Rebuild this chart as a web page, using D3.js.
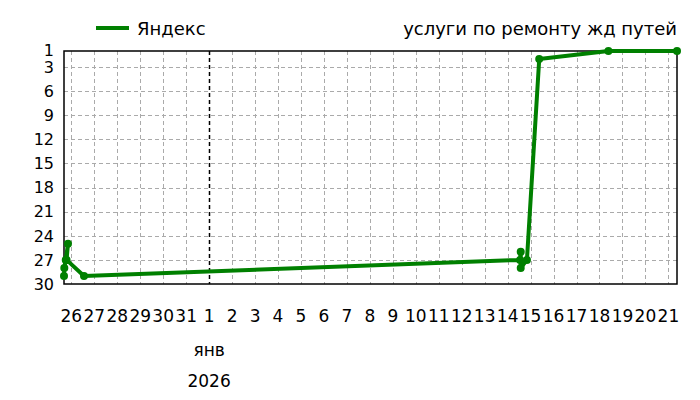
<!DOCTYPE html>
<meta charset="utf-8">

<head>
    <title>услуги по ремонту жд путей</title>
    <script src="https://cdn.jsdelivr.net/npm/d3@7"></script>
    <style>
        body {
            margin: 0;
            background-color: #fff;
        }

        text {
            font-family: "DejaVu Sans", Verdana, sans-serif;
            fill: #000;
        }

        .grid line {
            stroke: #aaa;
            stroke-dasharray: 4, 3;
            stroke-width: 1;
        }
    </style>
</head>

<body>
    <svg id="svg"></svg>

    <script>
        // data
        const seriesName = 'Яндекс'
        const chartTitle = 'услуги по ремонту жд путей'
        const monthLabel = 'янв'
        const yearLabel = '2026'
        const times = [
            '2025-12-25T16:20', '2025-12-25T16:40', '2025-12-25T18:10', '2025-12-25T20:30',
            '2025-12-25T19:00', '2025-12-26T13:15', '2026-01-14T13:00', '2026-01-14T13:40',
            '2026-01-14T13:40', '2026-01-14T20:10', '2026-01-15T09:00', '2026-01-18T09:20',
            '2026-01-21T09:00'
        ]
        const positions = [29, 28, 27, 25, 27, 29, 27, 26, 28, 27, 2, 1, 1]
        const yTicks = [1, 3, 6, 9, 12, 15, 18, 21, 24, 27, 30]
        const monthStart = '2026-01-01T00:00'

        const width = 700
        const height = 400
        const plot = { left: 64, right: 677, top: 51, bottom: 284 }
        const green = '#008000'

        const parse = d3.timeParse('%Y-%m-%dT%H:%M')
        const data = times.map((t, i) => ({ date: parse(t), pos: positions[i] }))

        let svg = d3.select('#svg')
            .attr('width', width)
            .attr('height', height)

        let x = d3.scaleTime()
            .domain(d3.extent(data, d => d.date))
            .range([plot.left, plot.right])

        let y = d3.scaleLinear()
            .domain([1, 30])
            .range([plot.top, plot.bottom])

        let days = d3.timeDay.range(d3.timeDay.ceil(x.domain()[0]), x.domain()[1])
        let jan1 = parse(monthStart)

        // grid
        let grid = svg.append('g').attr('class', 'grid')
        grid.selectAll('.vg')
            .data(days.filter(d => +d !== +jan1))
            .enter()
            .append('line')
            .attr('x1', d => Math.round(x(d)) + 0.5)
            .attr('x2', d => Math.round(x(d)) + 0.5)
            .attr('y1', plot.top)
            .attr('y2', plot.bottom)
        grid.selectAll('.hg')
            .data(yTicks.filter(v => v > 1 && v < 30))
            .enter()
            .append('line')
            .attr('x1', plot.left)
            .attr('x2', plot.right)
            .attr('y1', d => Math.round(y(d)) + 0.5)
            .attr('y2', d => Math.round(y(d)) + 0.5)

        // month boundary
        svg.append('line')
            .attr('x1', Math.round(x(jan1)) + 0.5)
            .attr('x2', Math.round(x(jan1)) + 0.5)
            .attr('y1', plot.top)
            .attr('y2', plot.bottom)
            .attr('stroke', '#000')
            .attr('stroke-width', 1.5)
            .attr('stroke-dasharray', '4,3')

        // frame
        svg.append('rect')
            .attr('x', plot.left)
            .attr('y', plot.top)
            .attr('width', plot.right - plot.left)
            .attr('height', plot.bottom - plot.top)
            .attr('fill', 'none')
            .attr('stroke', '#000')
            .attr('stroke-width', 1.5)

        // y labels
        svg.append('g')
            .selectAll('text')
            .data(yTicks)
            .enter()
            .append('text')
            .attr('x', plot.left - 10)
            .attr('y', d => y(d) - (d === 1 ? 1 : 0))
            .attr('dy', '0.36em')
            .attr('text-anchor', 'end')
            .style('font-size', '16px')
            .text(d => d)

        // x labels
        const dayFmt = d3.timeFormat('%-d')
        svg.append('g')
            .selectAll('text')
            .data(days)
            .enter()
            .append('text')
            .attr('x', d => x(d))
            .attr('y', 322)
            .attr('text-anchor', 'middle')
            .style('font-size', '17px')
            .text(d => dayFmt(d))

        svg.append('text')
            .attr('x', x(jan1))
            .attr('y', 356)
            .attr('text-anchor', 'middle')
            .style('font-size', '17px')
            .text(monthLabel)

        svg.append('text')
            .attr('x', x(jan1))
            .attr('y', 387)
            .attr('text-anchor', 'middle')
            .style('font-size', '17px')
            .text(yearLabel)

        // series
        let line = d3.line()
            .x(d => x(d.date))
            .y(d => y(d.pos))

        svg.append('path')
            .datum(data)
            .attr('d', line)
            .attr('fill', 'none')
            .attr('stroke', green)
            .attr('stroke-width', 4)
            .attr('stroke-linejoin', 'round')

        svg.append('g')
            .selectAll('circle')
            .data(data)
            .enter()
            .append('circle')
            .attr('cx', d => x(d.date))
            .attr('cy', d => y(d.pos))
            .attr('r', 4)
            .attr('fill', green)

        // legend + title
        svg.append('line')
            .attr('x1', 96)
            .attr('x2', 129)
            .attr('y1', 28)
            .attr('y2', 28)
            .attr('stroke', green)
            .attr('stroke-width', 4)
        svg.append('text')
            .attr('x', 137)
            .attr('y', 35)
            .style('font-size', '18px')
            .text(seriesName)

        svg.append('text')
            .attr('x', 677)
            .attr('y', 35)
            .attr('text-anchor', 'end')
            .style('font-size', '18px')
            .text(chartTitle)
    </script>
</body>

</html>
